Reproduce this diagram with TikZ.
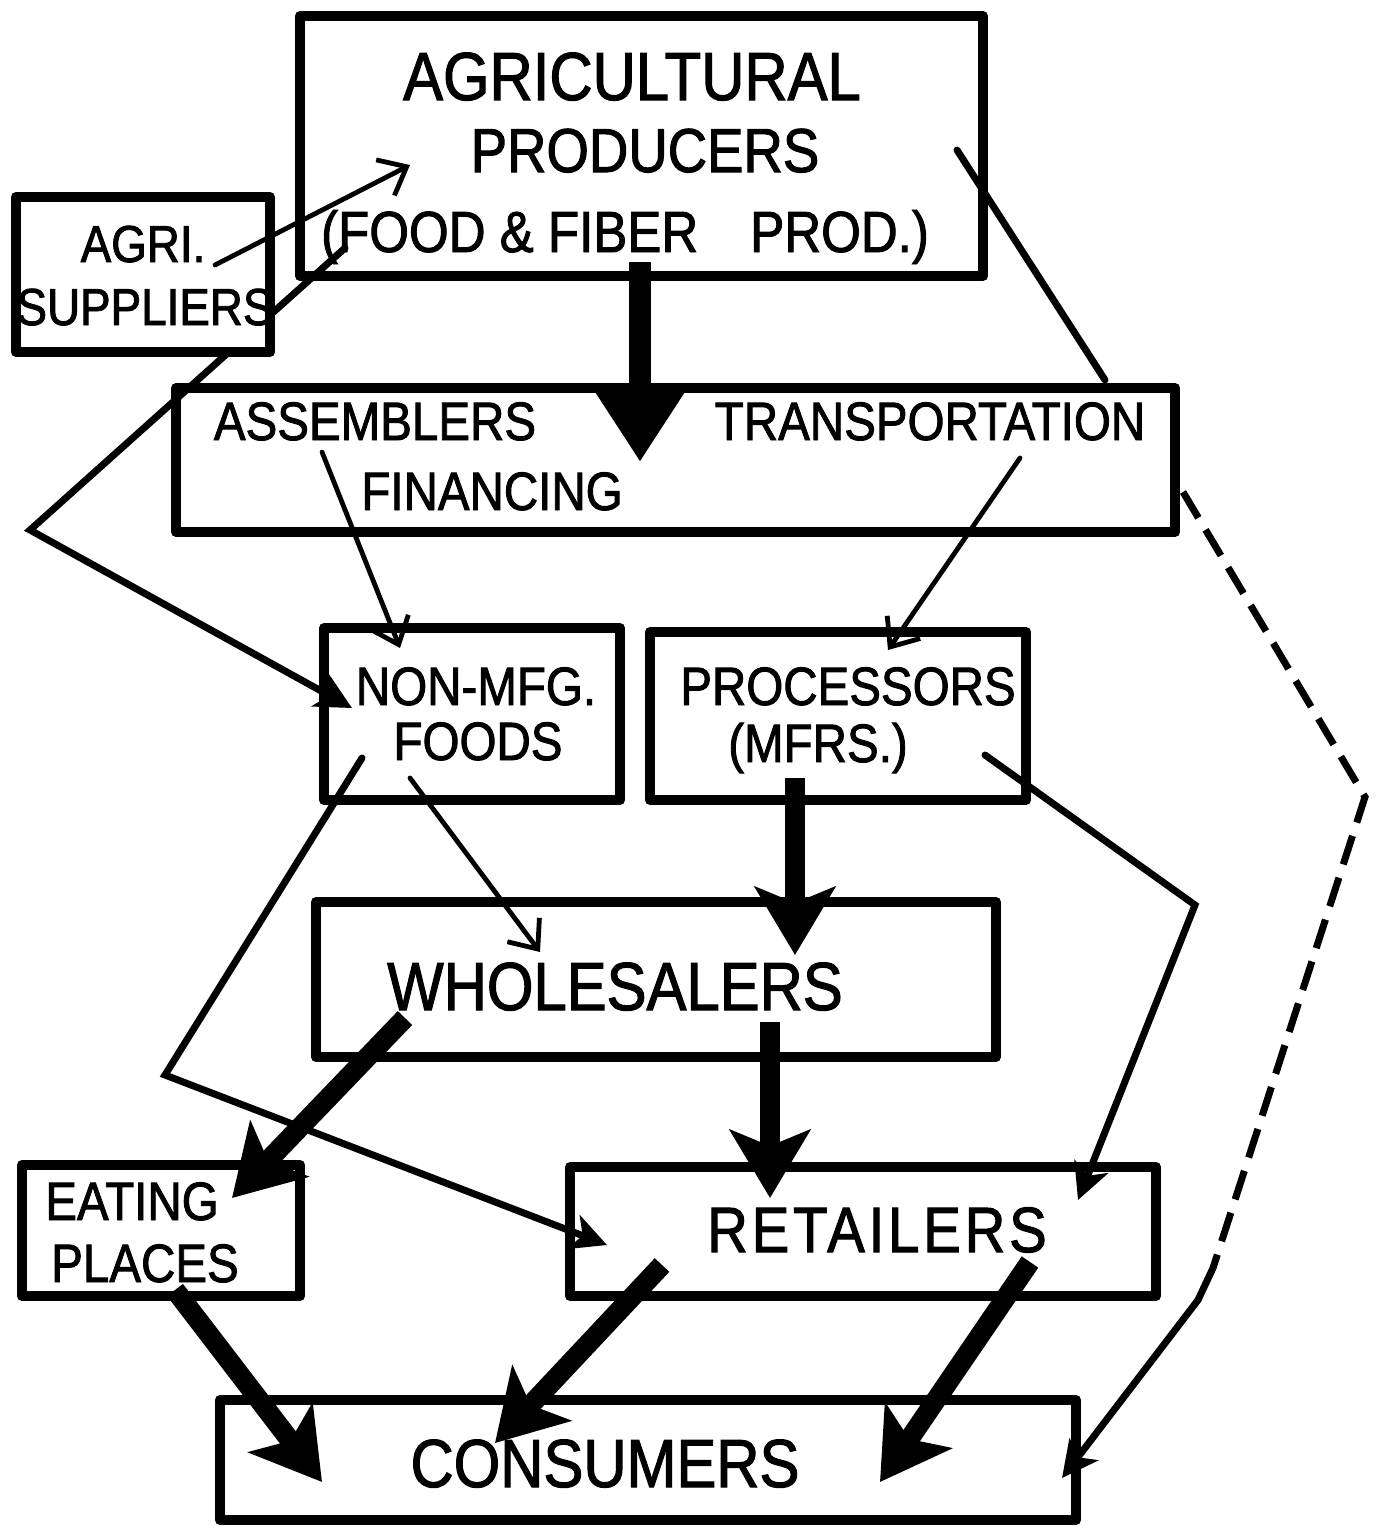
\documentclass[tikz,border=0pt]{standalone}
\usepackage{fontspec}
\setmainfont{Liberation Sans}[FakeStretch=0.88,FakeBold=1.6]
\usetikzlibrary{arrows.meta,fit}
\begin{document}
\begin{tikzpicture}[x=0.5pt,y=-0.5pt,
  box/.style={draw, line width=5pt, inner sep=0pt, line join=round},
  bigtxt/.style={font=\fontsize{34}{40}\selectfont, anchor=base, inner sep=0pt},
  medtxt/.style={font=\fontsize{27}{32}\selectfont, anchor=base, inner sep=0pt},
  thinarrow/.style={line width=2.4pt, line cap=round, -{Straight Barb[length=12pt,width=20pt]}},
  medline/.style={line width=3.5pt, line join=miter, line cap=round},
  medarrow/.style={medline, -{Stealth[length=18pt,width=18pt,inset=5pt]}},
  thickarrow/.style={line width=10pt, -{Stealth[length=34pt,width=40pt,inset=8pt]}},
  dashline/.style={line width=3.5pt, dash pattern=on 15pt off 7pt}
]
\useasboundingbox (0,0) rectangle (1388,1528);

% feedback line from producers to non-mfg foods (passes behind suppliers box)
\coordinate (fbA) at (345,248);
\coordinate (fbB) at (30,530);
\coordinate (fbC) at (352,708);
\draw[medarrow] (fbA) -- (fbB) -- (fbC);

% boxes
\node[box, fit={(300,16) (983,276)}] (prod) {};
\node[box, fill=white, fit={(16,197) (270,352)}] (sup) {};
\node[box, fit={(176,388) (1175,532)}] (asm) {};
\node[box, fit={(324,628) (620,800)}] (nonmfg) {};
\node[box, fit={(650,632) (1026,800)}] (proc) {};
\node[box, fit={(316,902) (996,1057)}] (whole) {};
\node[box, fit={(22,1165) (300,1296)}] (eat) {};
\node[box, fit={(570,1167) (1156,1296)}] (ret) {};
\node[box, fit={(220,1400) (1076,1520)}] (cons) {};

% texts
\node[bigtxt] (tAgr) at (632,100) {AGRICULTURAL};
\node[bigtxt, font=\fontsize{31}{36}\selectfont] (tProd) at (645,172) {PRODUCERS};
\node[medtxt, font=\fontsize{29}{34}\selectfont] (tFood) at (625,252) {(FOOD \& FIBER\hspace{26pt}PROD.)};
\node[medtxt, font=\fontsize{26}{30}\selectfont] (tAgri) at (143,262) {AGRI.};
\node[medtxt, font=\fontsize{26}{30}\selectfont] (tSup) at (145,325) {SUPPLIERS};
\node[medtxt] (tAsm) at (375,440) {ASSEMBLERS};
\node[medtxt] (tTrans) at (930,440) {TRANSPORTATION};
\node[medtxt] (tFin) at (492,510) {FINANCING};
\node[medtxt] (tNon) at (476,705) {NON-MFG.};
\node[medtxt] (tFoods) at (478,760) {FOODS};
\node[medtxt] (tProc) at (848,705) {PROCESSORS};
\node[medtxt] (tMfrs) at (818,762) {(MFRS.)};
\node[bigtxt] (tWhole) at (615,1010) {WHOLESALERS};
\node[medtxt] (tEat) at (132,1220) {EATING};
\node[medtxt] (tPlaces) at (145,1282) {PLACES};
\node[bigtxt, font=\fontsize{32}{38}\selectfont\addfontfeature{LetterSpace=6}] (tRet) at (877,1252) {RETAILERS};
\node[bigtxt] (tCons) at (605,1487) {CONSUMERS};

% connector end points
\coordinate (s1) at (215,265);   \coordinate (s2) at (410,165);
\coordinate (p1) at (640,262);   \coordinate (p2) at (640,462);
\coordinate (p3) at (957,150);   \coordinate (p4) at (1105,380);
\coordinate (a1) at (322,452);   \coordinate (a2) at (400,648);
\coordinate (a3) at (1020,458);  \coordinate (a4) at (888,650);
\coordinate (d1) at (1183,492);  \coordinate (d2) at (1365,797);
\coordinate (d3) at (1213,1268); \coordinate (d4) at (1198,1300);
\coordinate (d5) at (1062,1478);
\coordinate (n1) at (362,758);   \coordinate (n2) at (165,1075);
\coordinate (n3) at (607,1245);
\coordinate (n4) at (410,778);   \coordinate (n5) at (540,952);
\coordinate (r1) at (795,778);   \coordinate (r2) at (795,955);
\coordinate (r3) at (985,755);   \coordinate (r4) at (1195,905);
\coordinate (r5) at (1078,1200);
\coordinate (w1) at (405,1018);  \coordinate (w2) at (232,1198);
\coordinate (w3) at (770,1022);  \coordinate (w4) at (770,1198);
\coordinate (e1) at (175,1290);  \coordinate (e2) at (322,1482);
\coordinate (t1) at (662,1265);  \coordinate (t2) at (495,1443);
\coordinate (t3) at (1030,1262); \coordinate (t4) at (880,1482);

% connectors
\draw[thinarrow] (s1) -- (s2);
\draw[line width=11pt, -{Triangle[length=38pt,width=46pt]}] (p1) -- (p2);
\draw[medline] (p3) -- (p4);
\draw[thinarrow] (a1) -- (a2);
\draw[thinarrow] (a3) -- (a4);
\draw[dashline] (d1) -- (d2) -- (d3);
\draw[medarrow] (d3) -- (d4) -- (d5);
\draw[medarrow] (n1) -- (n2) -- (n3);
\draw[thinarrow] (n4) -- (n5);
\draw[thickarrow] (r1) -- (r2);
\draw[medarrow] (r3) -- (r4) -- (r5);
\draw[thickarrow] (w1) -- (w2);
\draw[thickarrow] (w3) -- (w4);
\draw[thickarrow] (e1) -- (e2);
\draw[thickarrow] (t1) -- (t2);
\draw[thickarrow] (t3) -- (t4);
\end{tikzpicture}
\end{document}
